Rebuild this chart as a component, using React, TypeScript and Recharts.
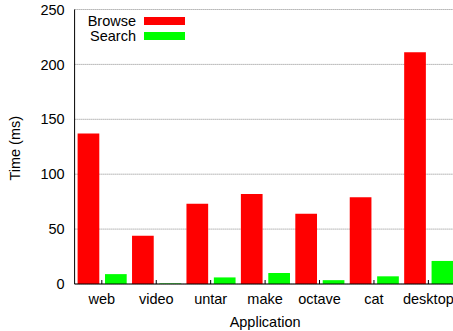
import { BarChart, Bar, XAxis, YAxis, CartesianGrid, Label } from 'recharts';

const apps = ['web', 'video', 'untar', 'make', 'octave', 'cat', 'desktop'];
const browse = [137, 44, 73, 82, 64, 79, 211];
const search = [9, 0.5, 6, 10, 3.5, 7, 21];
const yTicks = [0, 50, 100, 150, 200, 250];
const seriesNames = ['Browse', 'Search'];
const seriesColors = ['#ff0000', '#00ff00'];

const data = apps.map((app, i) => ({ app, browse: browse[i], search: search[i] }));

const FONT = '"Liberation Sans", Arial, sans-serif';
const FS = 14.5;

function XTick({ x, y, payload }: any) {
  return (
    <g>
      <line x1={x} x2={x} y1={y} y2={y - 4} stroke="#000" />
      <text x={x} y={y + 20} textAnchor="middle" fill="#000" fontSize={FS} fontFamily={FONT}>
        {payload.value}
      </text>
    </g>
  );
}

function Legendish() {
  return (
    <div style={{ position: 'absolute', left: 0, top: 0, fontFamily: FONT, fontSize: FS, color: '#000' }}>
      {seriesNames.map((name, i) => (
        <div key={name} style={{ position: 'absolute', top: 13 + i * 15, left: 0, width: 200, height: 16 }}>
          <span style={{ position: 'absolute', right: 64, lineHeight: '16px', whiteSpace: 'nowrap' }}>{name}</span>
          <span
            style={{
              position: 'absolute',
              left: 144,
              top: 3.7,
              width: 41,
              height: 8.6,
              background: seriesColors[i],
            }}
          />
        </div>
      ))}
    </div>
  );
}

export default function App() {
  return (
    <div style={{ position: 'absolute', left: 0, top: 0, width: 453, height: 331, overflow: 'hidden', background: '#fff' }}>
      <BarChart
        width={460}
        height={331}
        data={data}
        margin={{ top: 9.5, right: 4.4, bottom: 17, left: 14.6 }}
        barSize={21.7}
        barGap={5.7}
      >
        <CartesianGrid vertical={false} stroke="#888" strokeDasharray="1 1" />
        <XAxis
          dataKey="app"
          interval={0}
          height={30}
          tickSize={0}
          tickMargin={0}
          tickLine={false}
          axisLine={{ stroke: '#000' }}
          tick={<XTick />}
        >
          <Label
            content={({ viewBox }: any) => (
              <text
                x={viewBox.x + viewBox.width / 2}
                y={viewBox.y + 43}
                textAnchor="middle"
                fill="#000"
                fontSize={FS}
                fontFamily={FONT}
              >
                Application
              </text>
            )}
          />
        </XAxis>
        <XAxis xAxisId="top" dataKey="app" orientation="top" height={0} tick={false} tickLine={false} axisLine={{ stroke: '#000' }} />
        <YAxis
          width={60}
          domain={[0, 250]}
          ticks={yTicks}
          interval={0}
          tickLine={false}
          tickSize={8}
          tickMargin={2}
          axisLine={{ stroke: '#000' }}
          tick={{ fill: '#000', fontSize: FS, fontFamily: FONT }}
        >
          <Label
            content={({ viewBox }: any) => {
              const cx = viewBox.x + 5;
              const cy = viewBox.y + viewBox.height / 2 + 1.5;
              return (
                <text
                  x={cx}
                  y={cy}
                  transform={`rotate(-90, ${cx}, ${cy})`}
                  textAnchor="middle"
                  fill="#000"
                  fontSize={FS}
                  fontFamily={FONT}
                >
                  Time (ms)
                </text>
              );
            }}
          />
        </YAxis>
        <YAxis
          yAxisId="right"
          orientation="right"
          width={0}
          domain={[0, 250]}
          ticks={yTicks}
          interval={0}
          mirror
          tick={false}
          tickSize={4}
          tickLine={{ stroke: '#000' }}
          axisLine={{ stroke: '#000' }}
        />
        <Bar dataKey="browse" name={seriesNames[0]} fill={seriesColors[0]} isAnimationActive={false} />
        <Bar dataKey="search" name={seriesNames[1]} fill={seriesColors[1]} isAnimationActive={false} />
      </BarChart>
      <Legendish />
    </div>
  );
}
